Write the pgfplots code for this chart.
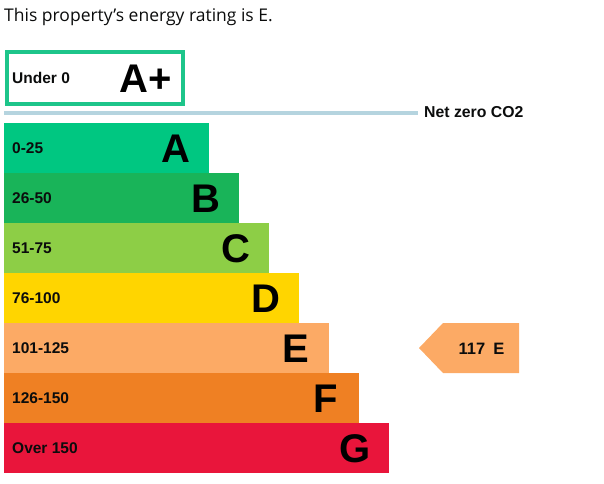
\documentclass[border=0pt]{standalone}
\usepackage{pgfplots}
\pgfplotsset{compat=1.18}
\usepackage{fontspec}
\setmainfont{Liberation Sans}
\newfontfamily\titlefont{Open Sans}
\definecolor{cAp}{HTML}{1DC58A}
\definecolor{cA}{HTML}{00C781}
\definecolor{cB}{HTML}{19B459}
\definecolor{cC}{HTML}{8DCE46}
\definecolor{cD}{HTML}{FFD500}
\definecolor{cE}{HTML}{FCAA65}
\definecolor{cF}{HTML}{EF8023}
\definecolor{cG}{HTML}{E9153B}
\definecolor{netz}{HTML}{B5D4DF}
\definecolor{txt}{HTML}{0B0C0C}
\newcommand{\fs}[1]{\fontsize{#1bp}{#1bp}\selectfont}
\begin{document}
\begin{tikzpicture}
\begin{axis}[
  width=604bp, height=484bp, scale only axis,
  xmin=-4, xmax=600, ymin=0, ymax=484, y dir=reverse,
  hide axis, clip=false,
]
\draw[draw=none] (rel axis cs:0,0) rectangle (rel axis cs:1,1);
% bars: length, centre
\addplot[xbar, bar shift=0pt, bar width=50, fill=cA, draw=none] coordinates {(205,148)};
\addplot[xbar, bar shift=0pt, bar width=50, fill=cB, draw=none] coordinates {(235,198)};
\addplot[xbar, bar shift=0pt, bar width=50, fill=cC, draw=none] coordinates {(265,248)};
\addplot[xbar, bar shift=0pt, bar width=50, fill=cD, draw=none] coordinates {(295,298)};
\addplot[xbar, bar shift=0pt, bar width=50, fill=cE, draw=none] coordinates {(325,348)};
\addplot[xbar, bar shift=0pt, bar width=50, fill=cF, draw=none] coordinates {(355,398)};
\addplot[xbar, bar shift=0pt, bar width=50, fill=cG, draw=none] coordinates {(385,448)};
% A+ box
\addplot[draw=cAp, line width=4bp, fill=white] coordinates {(3,52) (179,52) (179,104) (3,104)} -- cycle;
% net zero line
\addplot[draw=netz, line width=3.5bp] coordinates {(0,113) (414,113)};
% current rating arrow
\addplot[fill=cE, draw=none] coordinates {(415,348) (439,323) (515,323) (515,373) (439,373)} -- cycle;
% texts
\node[anchor=base west, inner sep=0, text=txt] at (axis cs:0,21.7) {\titlefont\fs{17.5}This property’s energy rating is E.};
\node[anchor=base west, inner sep=0, text=txt] at (axis cs:8,83.5) {\bfseries\fs{15.5}Under 0};
\node[anchor=base, inner sep=0] at (axis cs:141.3,92.7) {\bfseries\fs{40}A+};
\node[anchor=base west, inner sep=0, text=txt] at (axis cs:420,117) {\bfseries\fs{15.8}Net zero CO2};
\node[anchor=base, inner sep=0, text=txt] at (axis cs:477.5,354.3) {\bfseries\fs{16.5}117\hspace{8bp}E};
\foreach \l/\r/\len/\c in {0-25/A/205/148, 26-50/B/235/198, 51-75/C/265/248, 76-100/D/295/298, 101-125/E/325/348, 126-150/F/355/398, Over 150/G/385/448}{
  \edef\tmp{\noexpand\node[anchor=base west, inner sep=0, text=txt] at (axis cs:8,\c+5.3) {\noexpand\bfseries\noexpand\fs{15.5}\l};
  \noexpand\node[anchor=base, inner sep=0] at (axis cs:\len-33.5,\c+14.3) {\noexpand\bfseries\noexpand\fs{40}\r};}
  \tmp
}
\end{axis}
\end{tikzpicture}
\end{document}
